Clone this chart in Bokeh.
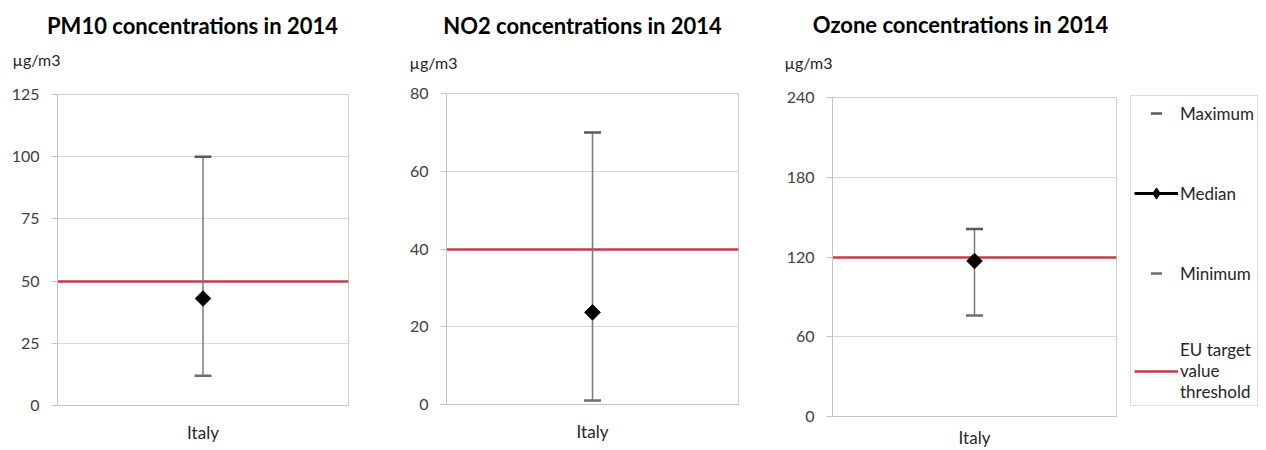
import numpy as np
from bokeh.plotting import figure
from bokeh.models import (Legend, LegendItem, FixedTicker, FactorRange, Range1d)
from bokeh.core.properties import value
from bokeh.layouts import row, column
from bokeh.embed import file_html
from bokeh.resources import INLINE

# ---------------- data ----------------
country = ["Italy"]
titles = ["PM10 concentrations in 2014",
          "NO2 concentrations in 2014",
          "Ozone concentrations in 2014"]
maximum = [100, 70, 141]
median = [43, 23.7, 117]
minimum = [12, 1, 76]
threshold = [50, 40, 120]
axis_max = [125, 80, 240]
axis_step = [25, 20, 60]
unit = "µg/m3"
legend_labels = ["Maximum", "Median", "Minimum", "EU target\nvalue\nthreshold"]

# ---------------- styling / layout ----------------
FONT = "Lato"
W, H = 1266, 450
HEAD = 79
widths = [370, 390, 360]
borders = [(57, 22, 15, 45), (76, 22, 14, 46), (72, 4, 18, 34)]  # l, r, t, b
x_standoff = [16, 16, 10]
title_xy = [(192, 25), (582, 25), (960, 24)]
unit_xy = [(12, 59), (409, 62), (784, 62)]
RED = "#c23b4b"
GRID = "#d9d9d9"
AXIS = "#c4c4c4"
CAP = "#595959"
STEM = "#7a7a7a"

# header with panel titles and unit labels
head = figure(width=W, height=HEAD, output_backend="svg", toolbar_location=None,
              x_range=Range1d(0, W), y_range=Range1d(HEAD, 0),
              min_border=0, outline_line_color=None,
              x_axis_location=None, y_axis_location=None)
head.grid.visible = False
head.text(x=[xy[0] for xy in title_xy], y=[xy[1] for xy in title_xy],
          text=titles, text_align="center", text_baseline="middle",
          text_font=value(FONT), text_font_style="bold",
          text_font_size="22px", text_color="black")
head.text(x=[xy[0] for xy in unit_xy], y=[xy[1] for xy in unit_xy],
          text=[unit] * 3, text_align="left", text_baseline="middle",
          text_font=value(FONT), text_font_size="16px", text_color="#262626")


def draw_series(p, i, visible=True, med_marker="square"):
    r_thr = p.hspan(y=[threshold[i]], line_color=RED, line_width=2.5,
                    visible=visible)
    p.segment(x0=country, y0=[minimum[i]], x1=country, y1=[maximum[i]],
              line_color=STEM, line_width=1.5, visible=visible)
    r_max = p.scatter(x=country, y=[maximum[i]], marker="dash", size=17,
                      line_color=CAP, line_width=2.5, visible=visible)
    r_min = p.scatter(x=country, y=[minimum[i]], marker="dash", size=17,
                      line_color="#6e6e6e", line_width=2.5, visible=visible)
    r_med_line = p.line(x=country, y=[median[i]], line_color="black",
                        line_width=3, visible=visible)
    if med_marker == "square":
        r_med = p.scatter(x=country, y=[median[i]], marker="square",
                          angle=np.pi / 4, size=11, fill_color="black",
                          line_color="black", visible=visible)
    else:
        r_med = p.scatter(x=country, y=[median[i]], marker=med_marker,
                          size=12, fill_color="black", line_color="black",
                          visible=visible)
    return r_max, r_med_line, r_med, r_min, r_thr


figs = []
for i in range(3):
    l, r, t, b = borders[i]
    p = figure(width=widths[i], height=H - HEAD, output_backend="svg",
               toolbar_location=None, x_range=FactorRange(factors=country),
               y_range=Range1d(0, axis_max[i]),
               min_border_left=l, min_border_right=r,
               min_border_top=t, min_border_bottom=b)
    p.outline_line_color = "#cfcfcf"
    p.xgrid.grid_line_color = None
    p.ygrid.grid_line_color = GRID

    ticks = list(range(0, axis_max[i] + 1, axis_step[i]))
    p.yaxis.ticker = FixedTicker(ticks=ticks, minor_ticks=[])
    p.yaxis.axis_line_color = AXIS
    p.yaxis.major_tick_line_color = AXIS
    p.yaxis.major_tick_out = 6
    p.yaxis.major_tick_in = 0
    p.yaxis.minor_tick_out = 0
    p.yaxis.minor_tick_line_color = None
    p.yaxis.major_label_text_font = FONT
    p.yaxis.major_label_text_font_size = "16px"
    p.yaxis.major_label_text_color = "#404040"
    p.yaxis.major_label_standoff = 12

    p.xaxis.axis_line_color = AXIS
    p.xaxis.major_tick_line_color = None
    p.xaxis.minor_tick_line_color = None
    p.xaxis.major_tick_out = 0
    p.xaxis.major_tick_in = 0
    p.xaxis.minor_tick_out = 0
    p.xaxis.major_label_text_font = FONT
    p.xaxis.major_label_text_font_size = "17px"
    p.xaxis.major_label_text_color = "#262626"
    p.xaxis.major_label_standoff = x_standoff[i]

    draw_series(p, i)
    figs.append(p)

# legend panel to the right of the ozone chart
lg = figure(width=W - sum(widths), height=H - HEAD, output_backend="svg",
            toolbar_location=None, x_range=FactorRange(factors=country),
            y_range=Range1d(0, axis_max[2]), min_border_left=0,
            min_border_right=0, min_border_top=6, min_border_bottom=0,
            outline_line_color=None, x_axis_location=None,
            y_axis_location=None)
lg.grid.visible = False
r_max, r_med_line, r_med, r_min, r_thr = draw_series(lg, 2, visible=False,
                                                     med_marker="diamond")
legend = Legend(items=[
    LegendItem(label=legend_labels[0], renderers=[r_max]),
    LegendItem(label=legend_labels[1], renderers=[r_med_line, r_med]),
    LegendItem(label=legend_labels[2], renderers=[r_min]),
    LegendItem(label=legend_labels[3], renderers=[r_thr]),
], location="top_left")
legend.border_line_color = "#bdbdbd"
legend.border_line_width = 1
legend.background_fill_color = "white"
legend.padding = 3
legend.margin = 10
legend.glyph_width = 44
legend.glyph_height = 28
legend.label_height = 20
legend.label_width = 70
legend.label_standoff = 2
legend.spacing = 52
legend.label_text_font = FONT
legend.label_text_font_size = "17px"
legend.label_text_color = "#262626"
lg.add_layout(legend)
figs.append(lg)

layout = column(head, row(*[column(f) for f in figs]))
open("out.html", "w").write(file_html(layout, INLINE))
